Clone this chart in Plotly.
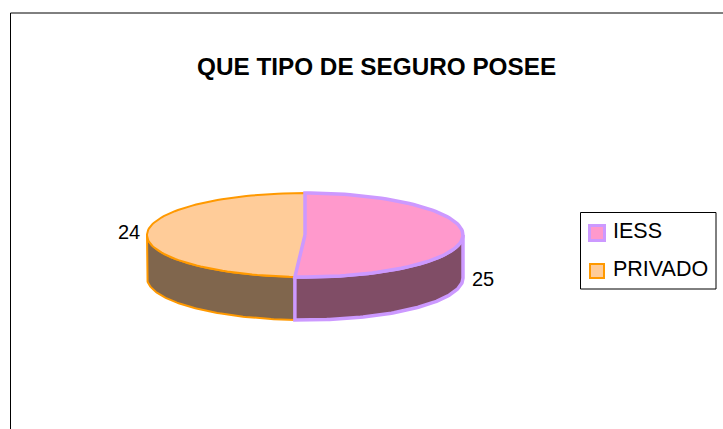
import numpy as np
import plotly.graph_objects as go

# pie data
categories = ["IESS", "PRIVADO"]
values = [25, 24]
face_colors = ["#FF99CC", "#FFCC99"]
side_colors = ["#804D66", "#80664D"]
edge_colors = ["#CC99FF", "#FF9900"]
edge_widths = [3.5, 2]
title_text = "QUE TIPO DE SEGURO POSEE"

# pie geometry, in page pixels
CX, CY = 305, 235
RX, RY = 158, 42
DEPTH = 43


def rim(a0, a1, drop=0):
    """Points along the ellipse, angles clockwise from the top."""
    t = np.radians(np.linspace(a0, a1, 90))
    return CX + RX * np.sin(t), CY - RY * np.cos(t) + drop


fig = go.Figure()

shares = np.array(values) / sum(values) * 360
ends = np.cumsum(shares)
starts = ends - shares

# walls first, only the front half shows
for i in [1, 0]:
    a0, a1 = max(starts[i], 90), min(ends[i], 270)
    x_top, y_top = rim(a0, a1)
    x_low, y_low = rim(a0, a1, DEPTH)
    fig.add_trace(go.Scatter(
        x=np.r_[x_top, x_low[::-1], x_top[0]],
        y=np.r_[y_top, y_low[::-1], y_top[0]],
        mode="lines", fill="toself", fillcolor=side_colors[i],
        line=dict(color=edge_colors[i], width=edge_widths[i]),
        hoverinfo="skip",
    ))

# top faces
for i in [1, 0]:
    x_top, y_top = rim(starts[i], ends[i])
    fig.add_trace(go.Scatter(
        x=np.r_[CX, x_top, CX],
        y=np.r_[CY, y_top, CY],
        mode="lines", fill="toself", fillcolor=face_colors[i],
        line=dict(color=edge_colors[i], width=edge_widths[i]),
        name=categories[i],
    ))

# legend swatches
fig.add_trace(go.Scatter(
    x=[597, 597], y=[233, 271],
    mode="markers",
    marker=dict(symbol="square", size=[15, 14], opacity=1, color=face_colors,
                line=dict(color=edge_colors, width=[3, 2])),
    hoverinfo="skip",
))
for label, y in zip(categories, [231, 269]):
    fig.add_annotation(x=611, y=y, text=label, showarrow=False, xanchor="left",
                       font=dict(size=21.5, color="black"))

fig.add_annotation(x=376, y=66, text="<b>%s</b>" % title_text, showarrow=False,
                   font=dict(size=24.3, color="black"))
fig.add_annotation(x=483, y=279, text=str(values[0]), showarrow=False,
                   font=dict(size=20, color="black"))
fig.add_annotation(x=129, y=232, text=str(values[1]), showarrow=False,
                   font=dict(size=20, color="black"))

# chart frame runs off the page on the right and bottom
fig.add_shape(type="rect", x0=10.5, y0=13, x1=760, y1=460,
              line=dict(color="black", width=1))
# legend box
fig.add_shape(type="rect", x0=580.5, y0=212.5, x1=716, y1=289,
              line=dict(color="black", width=1))

fig.update_layout(
    width=723, height=429,
    margin=dict(l=0, r=0, t=0, b=0),
    showlegend=False,
    paper_bgcolor="white",
    plot_bgcolor="white",
    font=dict(family="Liberation Sans, Arial, sans-serif", color="black"),
    xaxis=dict(range=[0, 723], visible=False),
    yaxis=dict(range=[429, 0], visible=False),
)

fig.write_html("out.html", config=dict(displayModeBar=False),
               post_script="document.body.style.margin='0';")
